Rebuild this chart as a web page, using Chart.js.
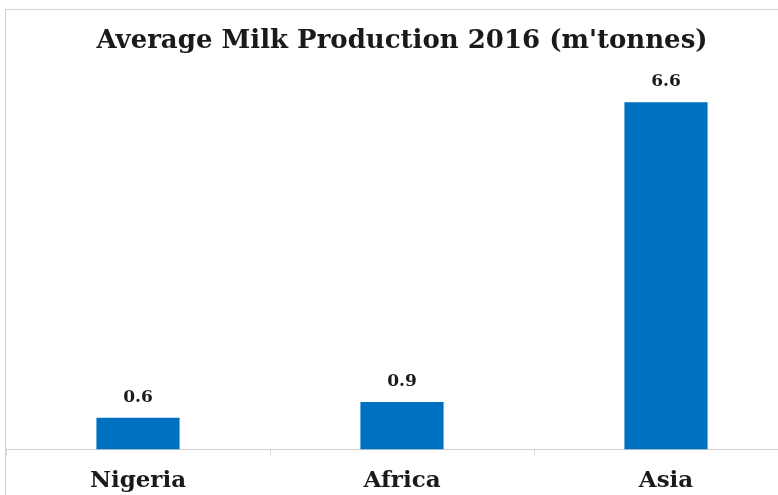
<!DOCTYPE html>
<html>
<head>
<meta charset="utf-8">
<script src="https://cdn.jsdelivr.net/npm/chart.js@4.4.0/dist/chart.umd.min.js"></script>
<style>
  html, body { margin: 0; padding: 0; background: #fff; overflow: hidden; width: 778px; height: 495px; }
  #frame { position: absolute; left: 5px; top: 9px; width: 820px; height: 520px;
           border-left: 1px solid #d4d4d4; border-top: 1px solid #d4d4d4; }
  #wrap { position: absolute; left: 0; top: 0; width: 792px; height: 498px; }
</style>
</head>
<body>
<div id="frame"><div id="wrap"><canvas id="grafico"></canvas></div></div>
<script>
// Dados do gráfico
const categorias = ['Nigeria', 'Africa', 'Asia'];
const valores = [0.6, 0.9, 6.6];
const rotulos = ['0.6', '0.9', '6.6'];

// Plugin simples para escrever os valores acima das barras
const rotulosPlugin = {
    id: 'rotulos',
    afterDatasetsDraw(chart) {
        const ctx = chart.ctx;
        const meta = chart.getDatasetMeta(0);
        ctx.save();
        ctx.font = 'bold 17px "DejaVu Serif"';
        ctx.fillStyle = '#1a1a1a';
        ctx.textAlign = 'center';
        ctx.textBaseline = 'bottom';
        meta.data.forEach(function(bar, i) {
            ctx.fillText(rotulos[i], bar.x, bar.y - 12);
        });
        ctx.restore();
    }
};

const ctx = document.getElementById('grafico').getContext('2d');
const chart = new Chart(ctx, {
    type: 'bar',
    data: {
        labels: categorias,
        datasets: [{
            data: valores,
            backgroundColor: '#0070C0',
            borderWidth: 0,
            categoryPercentage: 1.0,
            barPercentage: 0.315
        }]
    },
    options: {
        responsive: true,
        maintainAspectRatio: false,
        animation: false,
        layout: { padding: { left: 0, right: 0, top: 0, bottom: 1 } },
        plugins: {
            legend: { display: false },
            tooltip: { enabled: false },
            title: {
                display: true,
                text: "Average Milk Production 2016 (m'tonnes)",
                color: '#1a1a1a',
                font: { family: 'DejaVu Serif', size: 26, weight: 'bold', lineHeight: 1.2 },
                padding: { top: 16, bottom: 24 }
            }
        },
        scales: {
            x: {
                grid: { display: true, drawOnChartArea: false, tickLength: 6, color: '#d9d9d9' },
                border: { display: true, color: '#d0d0d0', dash: [2, 2] },
                ticks: {
                    color: '#1a1a1a',
                    padding: 12,
                    font: { family: 'DejaVu Serif', size: 23, weight: 'bold' }
                }
            },
            y: {
                display: false,
                min: 0,
                max: 7
            }
        }
    },
    plugins: [rotulosPlugin]
});
</script>
</body>
</html>
